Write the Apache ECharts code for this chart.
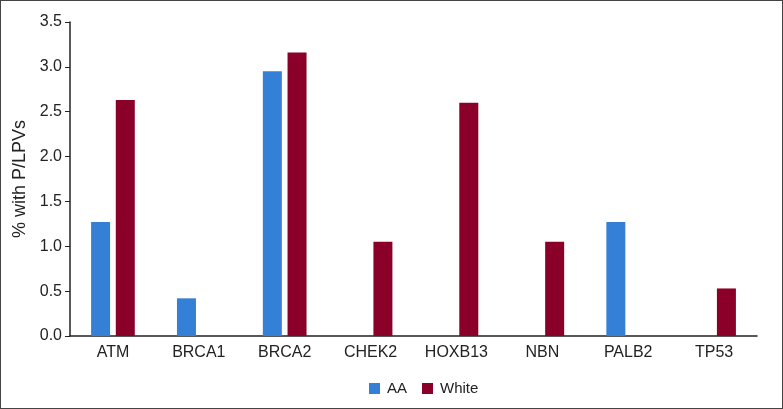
<!DOCTYPE html>
<html>
<head>
<meta charset="utf-8">
<script src="https://cdn.jsdelivr.net/npm/echarts@6/dist/echarts.min.js"></script>
<style>
    html, body { margin:0; padding:0; background:#fff; }
    #main {
        width:781px;
        height:407px;
        border:1px solid #444;
    }
</style>
</head>
<body>
<div id="main"></div>
<script>
// genes on the x axis
var genes = ['ATM', 'BRCA1', 'BRCA2', 'CHEK2', 'HOXB13', 'NBN', 'PALB2', 'TP53'];
// % with P/LPVs per group
var aaValues = [1.27, 0.42, 2.95, 0, 0, 0, 1.27, 0];
var whiteValues = [2.63, 0, 3.16, 1.05, 2.6, 1.05, 0, 0.53];
var yTicks = [0, 0.5, 1.0, 1.5, 2.0, 2.5, 3.0, 3.5];

var myChart = echarts.init(document.getElementById('main'));
myChart.setOption({
    animation: false,
    textStyle: { fontFamily: 'Liberation Sans, Arial, sans-serif' },
    grid: { left: 69, right: 25, top: 21, bottom: 72 },
    legend: {
        top: 375,
        left: 363,
        itemWidth: 11,
        itemHeight: 11,
        itemGap: 15,
        icon: 'rect',
        textStyle: { fontSize: 15, color: '#222', padding: [0, 0, 0, 2] },
        data: ['AA', 'White']
    },
    xAxis: {
        type: 'category',
        data: genes,
        axisLine: { lineStyle: { color: '#222', width: 1.5 } },
        axisTick: { show: false },
        axisLabel: { fontSize: 16, color: '#222', margin: 9 }
    },
    yAxis: {
        type: 'value',
        name: '% with P/LPVs',
        nameLocation: 'middle',
        nameGap: 33,
        nameTextStyle: { fontSize: 18, color: '#222' },
        min: yTicks[0],
        max: yTicks[yTicks.length - 1],
        interval: 0.5,
        splitLine: { show: false },
        axisLine: { show: true, lineStyle: { color: '#222', width: 1.5 } },
        axisTick: { show: true, length: 5, lineStyle: { color: '#222' } },
        axisLabel: {
            fontSize: 16,
            color: '#222',
            margin: 8,
            formatter: function (v) { return v.toFixed(1); }
        }
    },
    series: [
        {
            name: 'AA',
            type: 'bar',
            data: aaValues,
            barWidth: 19,
            barGap: '30%',
            itemStyle: { color: '#3380d6' }
        },
        {
            name: 'White',
            type: 'bar',
            data: whiteValues,
            barWidth: 19,
            itemStyle: { color: '#8a0029' }
        }
    ]
});
</script>
</body>
</html>
